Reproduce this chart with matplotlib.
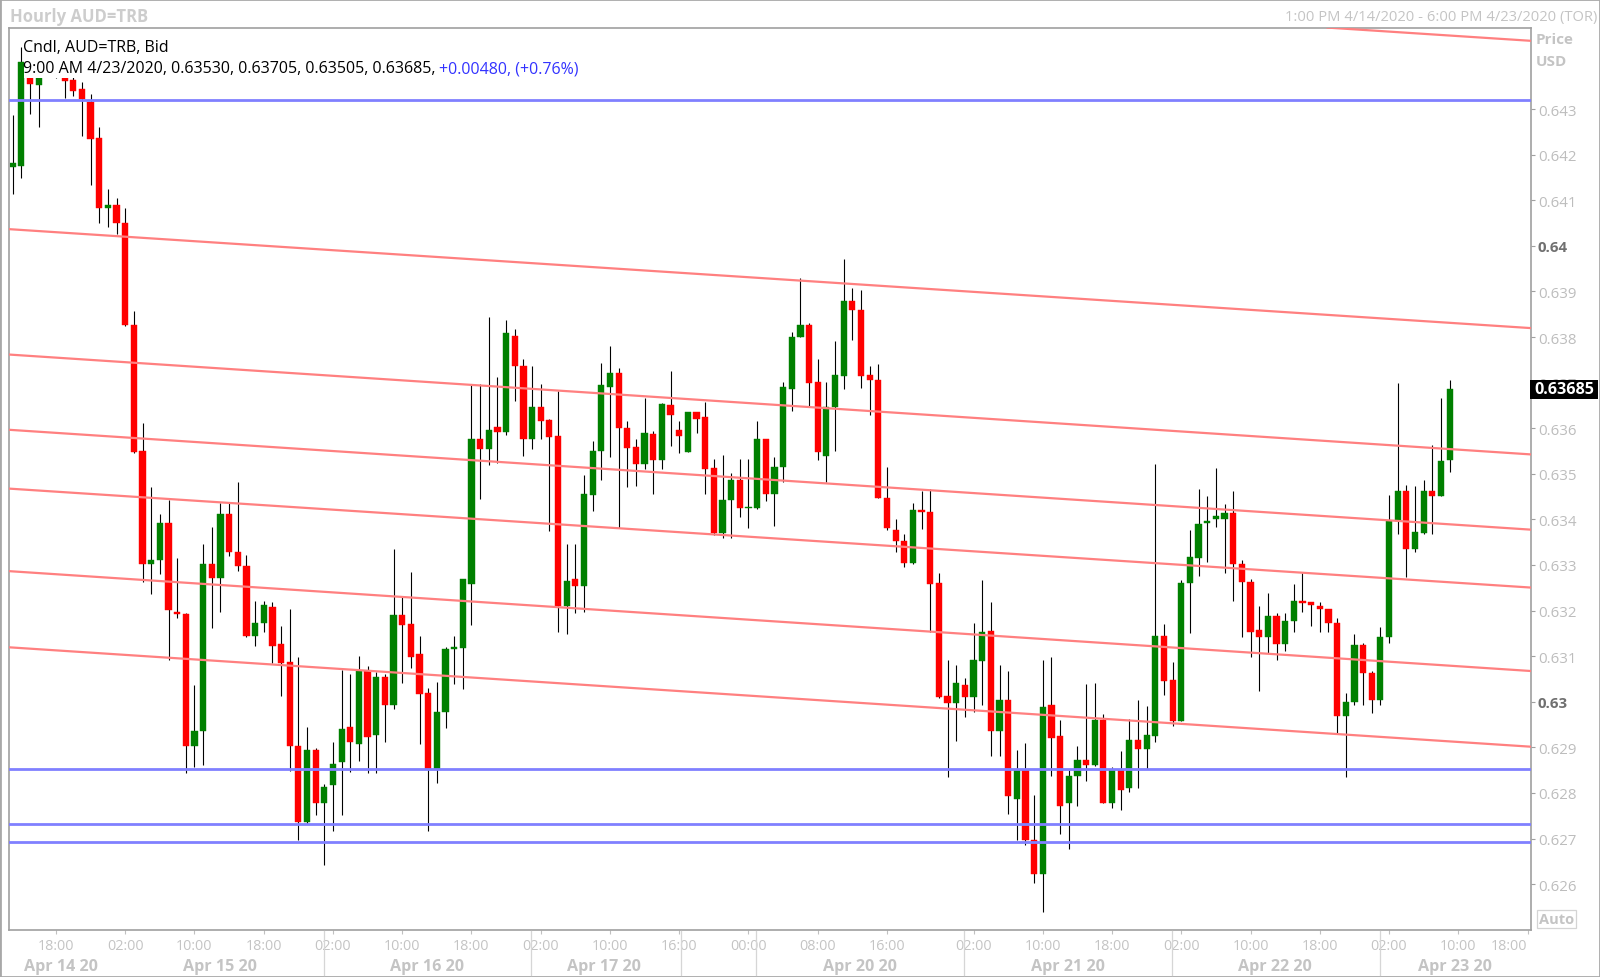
import matplotlib
matplotlib.use("Agg")
import matplotlib.pyplot as plt
import matplotlib.transforms as mtransforms
from matplotlib.patches import Rectangle
from matplotlib.lines import Line2D
import numpy as np

plt.rcParams['font.family'] = ['Open Sans', 'DejaVu Sans']

# hourly candles, AUD=TRB bid, 1:00 PM 4/14 .. 9:00 AM 4/23
opens = [0.64172, 0.64174, 0.64372, 0.64352, 0.64380, 0.64395, 0.64369, 0.64363, 0.64343, 0.64316,
         0.64237, 0.64082, 0.64090, 0.64050, 0.63827, 0.63551, 0.63303, 0.63310, 0.63393, 0.63198,
         0.63193, 0.62902, 0.62935, 0.63303, 0.63272, 0.63412, 0.63328, 0.63297, 0.63145, 0.63172,
         0.63207, 0.63127, 0.63087, 0.62902, 0.62736, 0.62895, 0.62779, 0.62818, 0.62869, 0.62944,
         0.62907, 0.63068, 0.62928, 0.63054, 0.62993, 0.63191, 0.63170, 0.63105, 0.63019, 0.62853,
         0.62978, 0.63115, 0.63119, 0.63259, 0.63577, 0.63555, 0.63603, 0.63591, 0.63803, 0.63736,
         0.63576, 0.63647, 0.63617, 0.63582, 0.63211, 0.63270, 0.63254, 0.63454, 0.63549, 0.63690,
         0.63722, 0.63601, 0.63558, 0.63521, 0.63587, 0.63531, 0.63651, 0.63596, 0.63547, 0.63636,
         0.63625, 0.63512, 0.63370, 0.63443, 0.63487, 0.63426, 0.63425, 0.63576, 0.63455, 0.63514,
         0.63685, 0.63800, 0.63826, 0.63701, 0.63539, 0.63647, 0.63715, 0.63880, 0.63859, 0.63716,
         0.63705, 0.63447, 0.63377, 0.63353, 0.63305, 0.63421, 0.63417, 0.63260, 0.63012, 0.62997,
         0.63037, 0.63011, 0.63090, 0.63156, 0.62937, 0.63003, 0.62786, 0.62850, 0.62698, 0.62622,
         0.62992, 0.62924, 0.62778, 0.62837, 0.62873, 0.62862, 0.62960, 0.62778, 0.62850, 0.62811,
         0.62917, 0.62897, 0.62926, 0.63145, 0.63048, 0.62957, 0.63260, 0.63316, 0.63392, 0.63401,
         0.63401, 0.63413, 0.63303, 0.63262, 0.63157, 0.63143, 0.63189, 0.63127, 0.63178, 0.63222,
         0.63218, 0.63209, 0.63203, 0.63172, 0.62968, 0.62999, 0.63125, 0.63064, 0.63003, 0.63143,
         0.63396, 0.63462, 0.63336, 0.63371, 0.63462, 0.63452, 0.63530]
highs = [0.64287, 0.64436, 0.64380, 0.64378, 0.64410, 0.64405, 0.64378, 0.64372, 0.64360, 0.64332,
         0.64260, 0.64125, 0.64105, 0.64082, 0.63856, 0.63612, 0.63471, 0.63412, 0.63442, 0.63316,
         0.63195, 0.63037, 0.63346, 0.63383, 0.63436, 0.63436, 0.63483, 0.63321, 0.63221, 0.63221,
         0.63219, 0.63166, 0.63204, 0.63099, 0.62944, 0.62899, 0.62820, 0.62911, 0.63070, 0.63060,
         0.63100, 0.63078, 0.63066, 0.63062, 0.63335, 0.63229, 0.63285, 0.63144, 0.63030, 0.63043,
         0.63121, 0.63144, 0.63270, 0.63694, 0.63696, 0.63843, 0.63712, 0.63837, 0.63818, 0.63751,
         0.63736, 0.63697, 0.63621, 0.63682, 0.63346, 0.63346, 0.63497, 0.63572, 0.63744, 0.63780,
         0.63731, 0.63616, 0.63576, 0.63666, 0.63594, 0.63656, 0.63725, 0.63615, 0.63636, 0.63636,
         0.63658, 0.63532, 0.63541, 0.63501, 0.63532, 0.63532, 0.63615, 0.63576, 0.63536, 0.63701,
         0.63811, 0.63930, 0.63830, 0.63751, 0.63701, 0.63791, 0.63970, 0.63908, 0.63903, 0.63736,
         0.63740, 0.63516, 0.63401, 0.63367, 0.63437, 0.63462, 0.63467, 0.63282, 0.63092, 0.63081,
         0.63052, 0.63172, 0.63267, 0.63218, 0.63081, 0.63067, 0.62895, 0.62909, 0.62795, 0.63092,
         0.63098, 0.62959, 0.62850, 0.62903, 0.63038, 0.63041, 0.62974, 0.62857, 0.62893, 0.62963,
         0.63003, 0.62990, 0.63521, 0.63170, 0.63088, 0.63267, 0.63376, 0.63467, 0.63452, 0.63513,
         0.63433, 0.63463, 0.63312, 0.63269, 0.63209, 0.63239, 0.63194, 0.63194, 0.63258, 0.63282,
         0.63218, 0.63218, 0.63203, 0.63183, 0.63019, 0.63148, 0.63130, 0.63068, 0.63165, 0.63453,
         0.63699, 0.63476, 0.63474, 0.63486, 0.63563, 0.63667, 0.63705]
lows = [0.64113, 0.64149, 0.64289, 0.64260, 0.64372, 0.64368, 0.64325, 0.64328, 0.64240, 0.64134,
        0.64050, 0.64041, 0.64025, 0.63825, 0.63545, 0.63262, 0.63236, 0.63281, 0.63092, 0.63184,
        0.62843, 0.62857, 0.62861, 0.63162, 0.63198, 0.63319, 0.63286, 0.63142, 0.63123, 0.63154,
        0.63084, 0.63013, 0.62849, 0.62696, 0.62733, 0.62752, 0.62642, 0.62717, 0.62752, 0.62846,
        0.62871, 0.62844, 0.62844, 0.62911, 0.62985, 0.63042, 0.63074, 0.62907, 0.62716, 0.62822,
        0.62942, 0.63038, 0.63027, 0.63168, 0.63445, 0.63519, 0.63524, 0.63586, 0.63660, 0.63539,
        0.63555, 0.63576, 0.63374, 0.63154, 0.63148, 0.63194, 0.63198, 0.63419, 0.63487, 0.63536,
        0.63382, 0.63470, 0.63474, 0.63510, 0.63455, 0.63510, 0.63561, 0.63545, 0.63547, 0.63589,
        0.63455, 0.63366, 0.63360, 0.63360, 0.63406, 0.63382, 0.63423, 0.63441, 0.63385, 0.63481,
        0.63638, 0.63800, 0.63647, 0.63531, 0.63481, 0.63550, 0.63685, 0.63793, 0.63689, 0.63629,
        0.63446, 0.63377, 0.63328, 0.63295, 0.63302, 0.63380, 0.63154, 0.63008, 0.62836, 0.62915,
        0.62966, 0.62977, 0.62992, 0.62882, 0.62882, 0.62753, 0.62696, 0.62685, 0.62603, 0.62540,
        0.62837, 0.62711, 0.62678, 0.62771, 0.62826, 0.62860, 0.62778, 0.62767, 0.62762, 0.62802,
        0.62811, 0.62853, 0.62912, 0.63015, 0.62947, 0.62957, 0.63151, 0.63276, 0.63306, 0.63384,
        0.63282, 0.63222, 0.63143, 0.63099, 0.63024, 0.63106, 0.63092, 0.63112, 0.63152, 0.63196,
        0.63167, 0.63152, 0.63152, 0.62931, 0.62834, 0.62992, 0.62992, 0.62975, 0.62992, 0.63128,
        0.63368, 0.63273, 0.63329, 0.63368, 0.63368, 0.63452, 0.63505]
closes = [0.64181, 0.64402, 0.64355, 0.64369, 0.64398, 0.64385, 0.64361, 0.64340, 0.64322, 0.64234,
          0.64082, 0.64090, 0.64050, 0.63827, 0.63547, 0.63303, 0.63310, 0.63393, 0.63201, 0.63193,
          0.62902, 0.62935, 0.63303, 0.63272, 0.63412, 0.63328, 0.63297, 0.63145, 0.63172, 0.63213,
          0.63123, 0.63084, 0.62902, 0.62737, 0.62895, 0.62779, 0.62813, 0.62864, 0.62940, 0.62911,
          0.63068, 0.62922, 0.63054, 0.62993, 0.63191, 0.63168, 0.63099, 0.63017, 0.62853, 0.62978,
          0.63115, 0.63120, 0.63270, 0.63577, 0.63555, 0.63596, 0.63591, 0.63808, 0.63736, 0.63576,
          0.63647, 0.63615, 0.63580, 0.63211, 0.63264, 0.63254, 0.63455, 0.63551, 0.63694, 0.63722,
          0.63600, 0.63556, 0.63521, 0.63590, 0.63531, 0.63652, 0.63629, 0.63582, 0.63636, 0.63621,
          0.63510, 0.63370, 0.63443, 0.63487, 0.63425, 0.63426, 0.63576, 0.63455, 0.63515, 0.63691,
          0.63801, 0.63826, 0.63700, 0.63547, 0.63647, 0.63716, 0.63880, 0.63859, 0.63715, 0.63705,
          0.63446, 0.63381, 0.63352, 0.63305, 0.63421, 0.63416, 0.63259, 0.63011, 0.62997, 0.63041,
          0.63011, 0.63092, 0.63152, 0.62937, 0.63003, 0.62793, 0.62850, 0.62696, 0.62622, 0.62988,
          0.62921, 0.62771, 0.62837, 0.62873, 0.62862, 0.62959, 0.62778, 0.62850, 0.62807, 0.62917,
          0.62897, 0.62928, 0.63145, 0.63046, 0.62957, 0.63260, 0.63318, 0.63391, 0.63397, 0.63408,
          0.63413, 0.63303, 0.63262, 0.63152, 0.63143, 0.63189, 0.63127, 0.63178, 0.63222, 0.63216,
          0.63212, 0.63203, 0.63172, 0.62968, 0.62999, 0.63125, 0.63064, 0.63003, 0.63143, 0.63396,
          0.63462, 0.63336, 0.63373, 0.63462, 0.63452, 0.63528, 0.63685]

# axis labelling (candle index based, weekend gap collapsed)
hour_ticks = [5, 13, 21, 29, 37, 45, 53, 61, 69, 77, 85, 93, 101, 111, 119, 127, 135, 143, 151, 159, 167, 175]
hour_labels = ['18:00', '02:00', '10:00', '18:00', '02:00', '10:00', '18:00', '02:00', '10:00', '16:00', '00:00',
               '08:00', '16:00', '02:00', '10:00', '18:00', '02:00', '10:00', '18:00', '02:00', '10:00', '18:00']
day_labels = ['Apr 14 20', 'Apr 15 20', 'Apr 16 20', 'Apr 17 20', 'Apr 20 20', 'Apr 21 20', 'Apr 22 20', 'Apr 23 20']
day_centers = [5.6, 23.9, 47.9, 68.3, 97.9, 121.9, 145.8, 166.6]
day_breaks = [36.0, 59.9, 77.2, 85.9, 109.9, 133.9, 157.9]

price_ticks = [0.626, 0.627, 0.628, 0.629, 0.630, 0.631, 0.632, 0.633, 0.634, 0.635,
               0.636, 0.637, 0.638, 0.639, 0.640, 0.641, 0.642, 0.643]
price_labels = ['0.626', '0.627', '0.628', '0.629', '0.63', '0.631', '0.632', '0.633', '0.634', '0.635',
                '0.636', '0.637', '0.638', '0.639', '0.64', '0.641', '0.642', '0.643']

# drawn channel lines (price at candle 0 and at candle 175) and horizontal levels
channel_start = [0.64666, 0.64036, 0.63761, 0.63596, 0.63467, 0.63286, 0.63119]
channel_end = [0.64450, 0.63820, 0.63543, 0.63378, 0.63251, 0.63068, 0.62902]
levels = [0.64320, 0.62852, 0.62733, 0.62693]

last_price = 0.63685

W, H = 1600, 978
fig = plt.figure(figsize=(W / 100, H / 100), dpi=100)
fig.patch.set_facecolor('white')


def fx(px):
    return px / W


def fy(py):
    return 1 - py / H


ax = fig.add_axes([fx(9.2), fy(931), fx(1531) - fx(9.2), fy(28.6) - fy(931)])
ax.set_xlim(-0.404, 175.4)
ax.set_ylim(0.6249956, 0.6447851)

o = np.array(opens)
h = np.array(highs)
l = np.array(lows)
c = np.array(closes)
x = np.arange(len(o))
up = c >= o
cols = np.where(up, '#008000', '#ff0000')
body_lo = np.minimum(o, c)
body_h = np.maximum(np.abs(c - o), 0.000022)

ax.vlines(x, l, h, color='black', lw=0.8, zorder=2)
ax.bar(x, body_h, bottom=body_lo, width=0.72, color=cols, edgecolor=cols, lw=0.3, zorder=2.5)

for s, e in zip(channel_start, channel_end):
    ax.axline((0, s), (175, e), color='#ff8080', lw=1.6, zorder=3)
for lv in levels:
    ax.axhline(lv, color='#8080ff', lw=2.0, zorder=3)

# white box behind the legend text
ax.add_patch(Rectangle((fx(23.5), fy(79)), fx(585) - fx(23.5), fy(33) - fy(79),
                       transform=fig.transFigure, facecolor='white', edgecolor='none', zorder=5))

ax.yaxis.tick_right()
ax.set_yticks(price_ticks, price_labels)
ax.tick_params(axis='y', length=3, width=0.8, color='#a0a0a0', pad=2,
               labelsize=10.8, labelcolor='#bdbdbd')
for t in ax.get_yticklabels():
    if t.get_text() in ('0.64', '0.63'):
        t.set_fontweight('bold')
        t.set_color('#707070')

ax.set_xticks(hour_ticks, hour_labels)
ax.tick_params(axis='x', length=3, width=0.8, color='#c0c0c0', pad=3,
               labelsize=10.4, labelcolor='#c4c4c4')
ax.get_xticklabels()[-1].set_horizontalalignment('right')

for sp in ax.spines.values():
    sp.set_color('#a0a0a0')
    sp.set_linewidth(1.2)

# date row
bt = mtransforms.blended_transform_factory(ax.transData, fig.transFigure)
for lab, xc in zip(day_labels, day_centers):
    fig.text(xc, fy(967), lab, transform=bt, ha='center', va='center',
             fontsize=11.6, fontweight='bold', color='#c4c4c4')
for xb in day_breaks:
    fig.add_artist(Line2D([xb, xb], [fy(932), fy(976)], transform=bt, color='#d6d6d6', lw=0.9))

# header texts
fig.text(fx(10), fy(17), 'Hourly AUD=TRB', ha='left', va='center', fontsize=12,
         fontweight='bold', color='#cdcdcd')
fig.text(fx(1597), fy(17), '1:00 PM 4/14/2020 - 6:00 PM 4/23/2020 (TOR)', ha='right', va='center',
         fontsize=10.6, color='#c4c4c4')
fig.text(fx(1536), fy(40), 'Price', ha='left', va='center', fontsize=11, fontweight='bold', color='#c4c4c4')
fig.text(fx(1536), fy(62), 'USD', ha='left', va='center', fontsize=11, fontweight='bold', color='#c4c4c4')

fig.text(fx(23), fy(48), 'Cndl, AUD=TRB, Bid', ha='left', va='center', fontsize=11.5, color='black', zorder=6)
t1 = fig.text(fx(23), fy(69), '9:00 AM 4/23/2020, 0.63530, 0.63705, 0.63505, 0.63685,',
              ha='left', va='center', fontsize=11.5, color='black', zorder=6)
fig.canvas.draw()
bb = t1.get_window_extent(renderer=fig.canvas.get_renderer())
fig.text((bb.x1 + 4) / W, fy(69), '+0.00480, (+0.76%)', ha='left', va='center',
         fontsize=11.5, color='#3333ff', zorder=6)

# last price marker
pt = mtransforms.blended_transform_factory(fig.transFigure, ax.transData)
fig.add_artist(Rectangle((fx(1530), last_price - 0.000213), fx(1598) - fx(1530), 0.000426,
                         transform=pt, facecolor='black', edgecolor='none', zorder=7))
fig.text(fx(1564), last_price, '0.63685', transform=pt, ha='center', va='center',
         fontsize=11.6, fontweight='bold', color='white', zorder=8)

# "Auto" box
fig.text(fx(1556.5), fy(920), 'Auto', ha='center', va='center', fontsize=10.5, fontweight='bold',
         color='#c4c4c4', bbox=dict(boxstyle='square,pad=0.12', facecolor='white', edgecolor='#d4d4d4', lw=0.9))

# outer frame
fig.add_artist(Rectangle((0, 0), 1, 1, transform=fig.transFigure, fill=False,
                         edgecolor='#a8a8a8', lw=2))

fig.savefig('out.png', dpi=100)
